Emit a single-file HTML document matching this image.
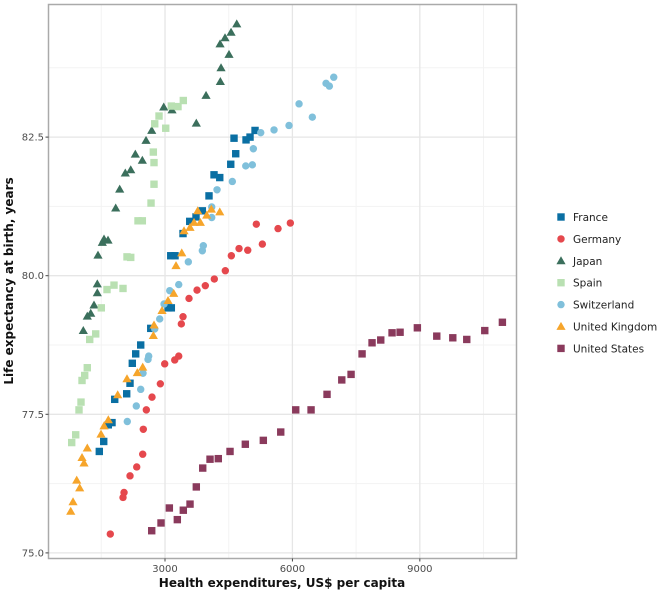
<!DOCTYPE html>
<html><head><meta charset="utf-8"><style>
html,body{margin:0;padding:0;background:#fff;}
svg{display:block;font-family:"DejaVu Sans","Liberation Sans",sans-serif;}
</style></head><body>
<svg id="chart" width="661" height="592" viewBox="0 0 661 592">
<g id="grid"></g>
<g id="points"></g>
<rect x="48.5" y="4.5" width="468" height="554" fill="none" stroke="#aaaaaa" stroke-width="1.5"/>
<g id="axes"></g>
<text x="282" y="587" text-anchor="middle" font-size="12" font-weight="bold" fill="#111">Health expenditures, US$ per capita</text>
<text transform="translate(13,281) rotate(-90)" text-anchor="middle" font-size="12" font-weight="bold" fill="#111">Life expectancy at birth, years</text>
<g id="legend"></g>
</svg>
<script>
const countries = ["France","Germany","Japan","Spain","Switzerland","United Kingdom","United States"];
const xTicks = [3000,6000,9000];
const xTickLabels = ["3000","6000","9000"];
const yTicks = [75,77.5,80,82.5];
const yTickLabels = ["75.0","77.5","80.0","82.5"];
const xMinor = [1500,4500,7500,10500];
const yMinor = [76.25,78.75,81.25,83.75];

const franceX = [5120,5002,4908,4625,4665,4548,4289,4154,4036,3879,3730,3582,3424,3236,3135,3149,3071,2664,2428,2310,2230,2176,2098,1816,1752,1665,1557,1453];
const franceY = [82.62,82.50,82.45,82.48,82.20,82.01,81.77,81.82,81.44,81.17,81.06,80.98,80.76,80.36,80.36,79.42,79.42,79.05,78.75,78.59,78.42,78.06,77.87,77.77,77.35,77.31,77.01,76.83];
const germanyX = [5951,5661,5150,5292,4948,4743,4562,4420,4161,3949,3754,3565,3424,3384,3323,3229,2993,2890,2694,2560,2489,2475,2334,2176,2035,2011,1712];
const germanyY = [80.95,80.85,80.93,80.57,80.46,80.49,80.36,80.09,79.94,79.82,79.74,79.59,79.26,79.13,78.55,78.48,78.41,78.05,77.81,77.58,77.23,76.78,76.55,76.39,76.09,76.00,75.34];
const japanX = [4689,4555,4413,4296,4507,4319,4303,3966,3737,2970,3165,2687,2553,2301,2466,2193,2065,1933,1839,1564,1658,1524,1422,1406,1406,1328,1251,1170,1076];
const japanY = [84.54,84.39,84.29,84.18,83.99,83.75,83.50,83.25,82.75,83.04,82.99,82.62,82.44,82.19,82.08,81.91,81.85,81.56,81.22,80.66,80.64,80.60,80.37,79.85,79.69,79.47,79.32,79.27,79.01];
const spainX = [3431,3306,3149,2859,3017,2758,2725,2741,2741,2671,2466,2364,2193,2105,1634,1799,2011,1500,1368,1227,1170,1109,1046,1022,975,897,803];
const spainY = [83.16,83.05,83.06,82.88,82.66,82.74,82.23,82.04,81.65,81.31,80.99,80.99,80.33,80.34,79.75,79.83,79.77,79.42,78.95,78.85,78.34,78.20,78.11,77.72,77.58,77.13,76.99];
const swissX = [6973,6870,6792,6156,6469,5920,5567,5254,5080,5056,4901,4585,4225,4100,4100,3902,3879,3549,3323,3111,2977,2875,2758,2616,2600,2482,2428,2324,2112];
const swissY = [83.58,83.42,83.47,83.10,82.86,82.71,82.63,82.58,82.29,82.00,81.98,81.70,81.55,81.24,81.05,80.54,80.45,80.25,79.84,79.73,79.49,79.22,79.04,78.55,78.49,78.24,77.95,77.65,77.37];
const ukX = [3770,4091,4289,3982,3832,3683,3589,3448,3394,3259,3205,3071,2930,2741,2725,2475,2348,2105,1886,1665,1564,1493,1170,1046,1093,921,991,834,780];
const ukY = [81.17,81.20,81.15,81.09,80.96,80.96,80.87,80.81,80.41,80.18,79.68,79.55,79.37,79.11,78.92,78.35,78.25,78.14,77.85,77.40,77.29,77.14,76.89,76.72,76.62,76.31,76.17,75.92,75.75];
const usX = [10944,10529,10105,9776,9399,8942,8535,8346,8080,7875,7640,7381,7162,6815,6439,6078,5725,5315,4891,4531,4255,4060,3888,3737,3589,3431,3290,3102,2906,2687];
const usY = [79.16,79.01,78.85,78.88,78.91,79.06,78.98,78.97,78.84,78.79,78.59,78.22,78.12,77.86,77.58,77.58,77.18,77.03,76.96,76.83,76.70,76.69,76.53,76.19,75.88,75.77,75.60,75.81,75.54,75.40];

const NS="http://www.w3.org/2000/svg";
function xs(v){return 37.6+v*0.04247;}
function ys(v){return 275.7-(v-80)*55.44;}
function mk(tag,attrs,parent){const e=document.createElementNS(NS,tag);for(const k in attrs)e.setAttribute(k,attrs[k]);parent.appendChild(e);return e;}
const grid=document.getElementById('grid'),pts=document.getElementById('points'),axes=document.getElementById('axes'),leg=document.getElementById('legend');
const L=48.5,R=516.5,T=4.5,B=558.5;
mk('rect',{x:L,y:T,width:R-L,height:B-T,fill:'#fff'},grid);
xMinor.forEach(v=>{const l=mk('line',{x1:xs(v),x2:xs(v),y1:T,y2:B,stroke:'#f3f3f3','stroke-width':1},grid);

});
yMinor.forEach(v=>{const l=mk('line',{x1:L,x2:R,y1:ys(v),y2:ys(v),stroke:'#f3f3f3','stroke-width':1},grid);

});
xTicks.forEach((v,i)=>{const l=mk('line',{x1:xs(v),x2:xs(v),y1:T,y2:B,stroke:'#e6e6e6','stroke-width':1.3},grid);


const tk=mk('line',{x1:xs(v),x2:xs(v),y1:B,y2:B+3,stroke:'#444'},axes);


const t=mk('text',{x:xs(v),y:572,'text-anchor':'middle','font-size':10,fill:'#4d4d4d'},axes);t.textContent=xTickLabels[i];

});
yTicks.forEach((v,i)=>{const l=mk('line',{x1:L,x2:R,y1:ys(v),y2:ys(v),stroke:'#e6e6e6','stroke-width':1.3},grid);


const tk=mk('line',{x1:L-3,x2:L,y1:ys(v),y2:ys(v),stroke:'#444'},axes);


const t=mk('text',{x:44,y:ys(v)+3.5,'text-anchor':'end','font-size':10,fill:'#4d4d4d'},axes);t.textContent=yTickLabels[i];

});
const colors=['#0a6fa3','#e5484d','#3b6f5c','#b9e0b2','#80c0db','#f6a52b','#8a3a5c'];
const shapes=['square','circle','triangle','square','circle','triangle','square'];
const seriesX=[franceX,germanyX,japanX,spainX,swissX,ukX,usX];
const seriesY=[franceY,germanyY,japanY,spainY,swissY,ukY,usY];
function marker(shape,cx,cy,col,parent){
 if(shape==='square')return mk('rect',{x:cx-3.7,y:cy-3.7,width:7.4,height:7.4,fill:col},parent);
 if(shape==='circle')return mk('circle',{cx:cx,cy:cy,r:3.7,fill:col},parent);
 return mk('polygon',{points:`${cx},${cy-4.6} ${cx-4.6},${cy+3.4} ${cx+4.6},${cy+3.4}`,fill:col},parent);
}
countries.forEach((c,si)=>{
 const g=mk('g',{},pts);
 
 
 seriesX[si].forEach((xv,i)=>{const m=marker(shapes[si],xs(xv),ys(seriesY[si][i]),colors[si],g);
 
 });
 const ly=217+si*21.9;
 const lg=mk('g',{},leg);
 
 
 marker(shapes[si],561,ly,colors[si],lg);
 const t=mk('text',{x:573,y:ly+4,'font-size':10.5,fill:'#222'},lg);t.textContent=c;
});
</script>
</body></html>
